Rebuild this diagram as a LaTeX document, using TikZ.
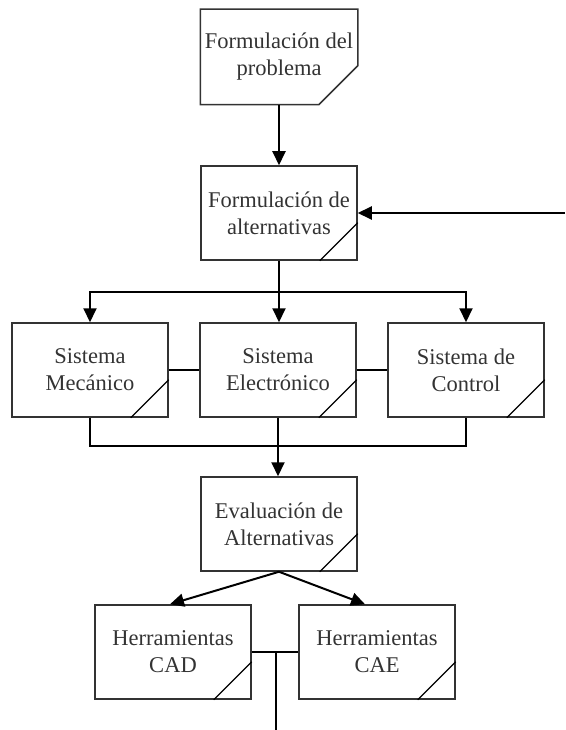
\documentclass[tikz,border=0pt]{standalone}
\usepackage{fontspec}
\setmainfont{Liberation Serif}
\usepackage{tikz}
\usetikzlibrary{arrows.meta, positioning, calc}

\begin{document}
\begin{tikzpicture}[
  x=1pt, y=-1pt,
  blk/.style={draw=#1, line width=1.5pt, minimum width=156pt, minimum height=94pt, align=center, inner sep=2pt,
    font=\fontsize{22.5}{27}\selectfont, text=black!80},
  blk/.default=black!80,
  flow/.style={-{Triangle[length=14pt, width=13pt]}, line width=2pt},
  link/.style={line width=2pt}
]
  \useasboundingbox (0,0) rectangle (565,730);

  % Top
  \node[blk=none] (prob) at (279, 57) {Formulaci\'on del\\problema};
  \node[blk] (alt) at (279, 213) {Formulaci\'on de\\alternativas};

  % Systems
  \node[blk] (mec) at (90, 370) {Sistema\\Mec\'anico};
  \node[blk] (elec) at (278, 370) {Sistema\\Electr\'onico};
  \node[blk] (ctrl) at (466, 370) {Sistema de\\Control};

  % Evaluation and tools
  \node[blk] (eval) at (279, 524) {Evaluaci\'on de\\Alternativas};
  \node[blk] (cad) at (173, 652) {Herramientas\\CAD};
  \node[blk] (cae) at (377, 652) {Herramientas\\CAE};

  % Free ends
  \coordinate (in) at (565, 213);
  \coordinate (out) at (276, 730);
  \coordinate (split) at (279, 292);
  \coordinate (merge) at (279, 446);
  \coordinate (tools) at (276, 652);

  % Chamfered outline of the first block
  \draw[line width=1.5pt, black!80] (prob.south west) -- (prob.north west) -- (prob.north east)
    -- ($(prob.south east)+(0,-39)$) -- ($(prob.south east)+(-39,0)$) -- cycle;

  % Corner marks
  \foreach \n in {alt, mec, elec, ctrl, eval, cad, cae}
    \draw[line width=1.2pt] ($(\n.south east)+(0,-38)$) -- ($(\n.south east)+(-38,0)$);

  % Connectors
  \draw[flow] (prob) -- (alt);
  \draw[flow] (in) -- (alt.east);
  \draw[link] (alt) -- (split);
  \draw[flow] (split) -| (mec.north);
  \draw[flow] (split) -| (ctrl.north);
  \draw[flow] (split) -- (split |- elec.north);
  \draw[link] (mec) -- (elec);
  \draw[link] (elec) -- (ctrl);
  \draw[link] (mec.south) |- (merge) -| (ctrl.south);
  \draw[flow] (elec.south) -- (elec.south |- eval.north);
  \draw[flow] (eval.south) -- ([xshift=-3pt]cad.north);
  \draw[flow] (eval.south) -- ([xshift=-12pt]cae.north);
  \draw[link] (cad) -- (cae);
  \draw[link] (tools) -- (out);
\end{tikzpicture}
\end{document}
